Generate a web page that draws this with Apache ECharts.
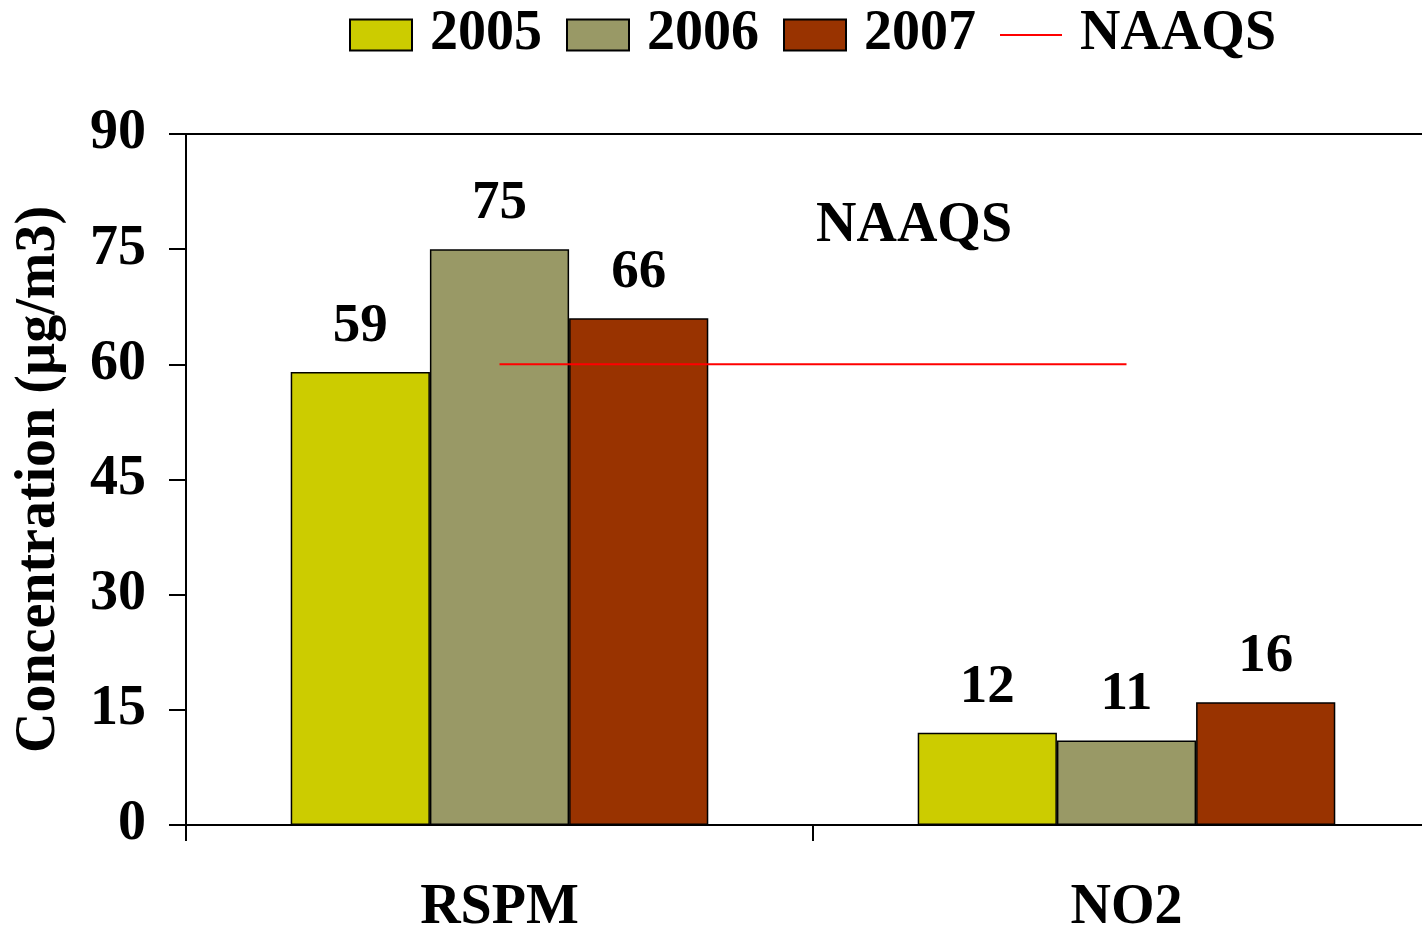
<!DOCTYPE html>
<html>
<head>
<meta charset="utf-8">
<script src="https://cdn.jsdelivr.net/npm/echarts@6/dist/echarts.min.js"></script>
<style>
html, body { margin: 0; padding: 0; background: #fff; }
#chart { width: 1422px; height: 931px; }
</style>
</head>
<body>
<div id="chart"></div>
<script>
// pollutants on x axis
var categories = ['RSPM', 'NO2'];
var years = ['2005', '2006', '2007'];
var values2005 = [59, 12];
var values2006 = [75, 11];
var values2007 = [66, 16];
var naaqs = [60, 60];
var yTicks = { min: 0, max: 90, interval: 15 };

var FONT = '"Liberation Serif", "Times New Roman", serif';
var colors = ['#CCCC00', '#999966', '#993300'];
// thin line for the legend, padded so it keeps the 62x31 icon box
var lineIcon = 'path://M0,0 M0,14.5 L62,14.5 L62,16.5 L0,16.5 Z M62,31';

var chart = echarts.init(document.getElementById('chart'));

function barSeries(name, data, color) {
    return {
        name: name,
        type: 'bar',
        data: data,
        barGap: 0,
        barCategoryGap: '33.4%',
        itemStyle: { color: color, borderColor: '#000', borderWidth: 1.5 },
        label: {
            show: true,
            position: 'top',
            distance: 18,
            color: '#000',
            fontFamily: FONT,
            fontWeight: 'bold',
            fontSize: 55
        }
    };
}

var option = {
    animation: false,
    backgroundColor: '#fff',
    // plot runs past the right edge of the window, like the original slide
    grid: { left: 186, width: 1254, top: 134, bottom: 106, containLabel: false, outerBoundsMode: 'none' },
    legend: {
        top: 2,
        left: 344,
        itemWidth: 62,
        itemHeight: 31,
        itemGap: 24,
        textStyle: { fontFamily: FONT, fontWeight: 'bold', fontSize: 56, color: '#000', padding: [0, 0, 0, 13] },
        data: [
            { name: '2005', icon: 'rect', itemStyle: { borderColor: '#000', borderWidth: 2 } },
            { name: '2006', icon: 'rect', itemStyle: { borderColor: '#000', borderWidth: 2 } },
            { name: '2007', icon: 'rect', itemStyle: { borderColor: '#000', borderWidth: 2 } },
            { name: 'NAAQS', icon: lineIcon, itemStyle: { color: '#FF0000', borderWidth: 0 } }
        ]
    },
    xAxis: [{
        type: 'category',
        data: categories,
        axisLine: { lineStyle: { color: '#000', width: 2 } },
        axisTick: { show: true, length: 16, lineStyle: { color: '#000', width: 2 } },
        axisLabel: {
            margin: 56,
            color: '#000',
            fontFamily: FONT,
            fontWeight: 'bold',
            fontSize: 56
        }
    }, {
        type: 'category',
        position: 'top',
        data: categories,
        axisLine: { show: true, lineStyle: { color: '#000', width: 2 } },
        axisTick: { show: false },
        axisLabel: { show: false }
    }],
    yAxis: {
        type: 'value',
        min: yTicks.min,
        max: yTicks.max,
        interval: yTicks.interval,
        name: 'Concentration (µg/m3)',
        nameLocation: 'middle',
        nameGap: 118,
        nameTextStyle: { fontFamily: FONT, fontWeight: 'bold', fontSize: 56, color: '#000' },
        axisLine: { show: true, lineStyle: { color: '#000', width: 2 } },
        axisTick: { show: true, length: 17, lineStyle: { color: '#000', width: 2 } },
        splitLine: { show: false },
        axisLabel: {
            margin: 40,
            color: '#000',
            fontFamily: FONT,
            fontWeight: 'bold',
            fontSize: 56
        }
    },
    series: [
        barSeries(years[0], values2005, colors[0]),
        barSeries(years[1], values2006, colors[1]),
        barSeries(years[2], values2007, colors[2]),
        {
            name: 'NAAQS',
            type: 'line',
            data: naaqs,
            symbol: 'none',
            color: '#FF0000',
            lineStyle: { color: '#FF0000', width: 2 },
            z: 5
        }
    ],
    graphic: [{
        type: 'text',
        left: 816,
        top: 199,
        style: { text: 'NAAQS', fontFamily: FONT, fontWeight: 'bold', fontSize: 56, fill: '#000' }
    }]
};

chart.setOption(option);
</script>
</body>
</html>
